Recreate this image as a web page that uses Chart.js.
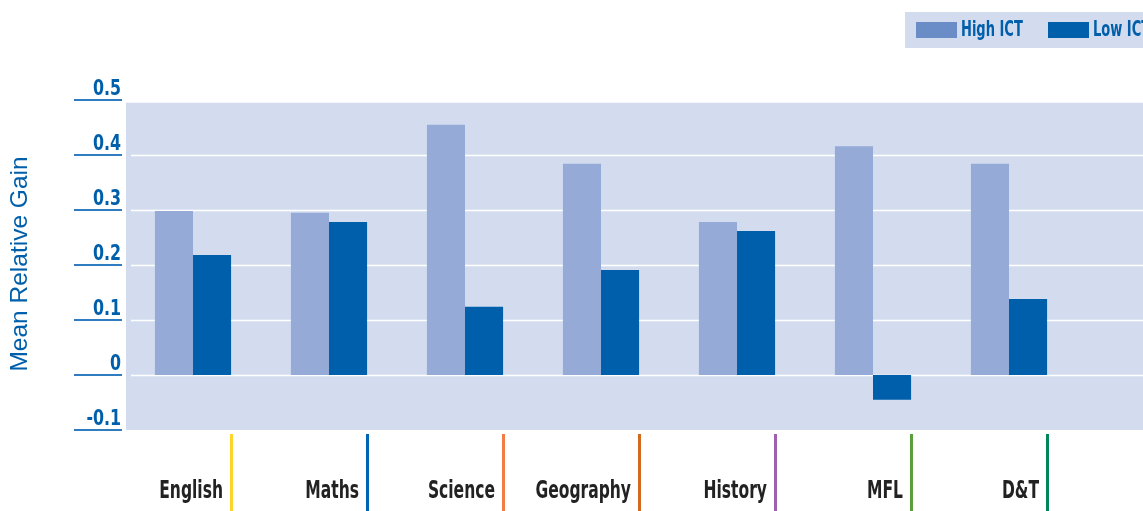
<!DOCTYPE html>
<html>
<head>
<meta charset="utf-8">
<script src="https://cdn.jsdelivr.net/npm/chart.js@4"></script>
<style>
    html, body { margin: 0; padding: 0; background: #fff; }
    #wrap { position: relative; width: 1143px; height: 511px; }
</style>
</head>
<body>
<div id="wrap"><canvas id="chartGain"></canvas></div>
<script>
// data
const subjects = ['English', 'Maths', 'Science', 'Geography', 'History', 'MFL', 'D&T'];
const subjectColors = ['#FFD42A', '#0066B3', '#F47B45', '#D2691C', '#A060B0', '#5C9E3A', '#008657'];
const highICT = [0.298, 0.295, 0.455, 0.384, 0.278, 0.416, 0.384];
const lowICT = [0.218, 0.278, 0.124, 0.191, 0.262, -0.045, 0.138];
const yTicks = [0.5, 0.4, 0.3, 0.2, 0.1, 0, -0.1];
const yTickLabels = ['0.5', '0.4', '0.3', '0.2', '0.1', '0', '-0.1'];

const BLUE = '#005FAA';
const narrow = '"Liberation Sans Narrow", "DejaVu Sans Condensed", "Roboto Condensed", sans-serif';

// condensed bold text: squeeze horizontally since no narrow face is around
function narrowText(ctx, text, x, y, size, sx, align, baseline) {
    ctx.save();
    ctx.translate(x, y);
    ctx.scale(sx, 1);
    ctx.font = 'bold ' + size + 'px ' + narrow;
    ctx.textAlign = align;
    ctx.textBaseline = baseline;
    ctx.fillText(text, 0, 0);
    ctx.restore();
}

// panel background + white gridlines behind the bars
const panelPlugin = {
    id: 'panel',
    beforeDatasetsDraw(chart) {
        const ctx = chart.ctx, y = chart.scales.y, a = chart.chartArea;
        ctx.save();
        ctx.fillStyle = '#D3DCEF';
        const top = y.getPixelForValue(0.495);
        ctx.fillRect(a.left + 1, top, chart.width - a.left, a.bottom - top);
        ctx.strokeStyle = '#FFFFFF';
        ctx.lineWidth = 1.5;
        yTicks.filter(v => v < 0.5 && v > -0.1).forEach(v => {
            const py = Math.round(y.getPixelForValue(v)) + 0.5;
            ctx.beginPath(); ctx.moveTo(a.left + 6, py); ctx.lineTo(chart.width, py); ctx.stroke();
        });
        ctx.restore();
    },
    afterDraw(chart) {
        const ctx = chart.ctx, y = chart.scales.y;
        ctx.save();

        // y tick labels with underlines
        yTicks.forEach((v, i) => {
            const py = Math.round(y.getPixelForValue(v));
            ctx.strokeStyle = '#2F7CC0';
            ctx.lineWidth = 2;
            ctx.beginPath(); ctx.moveTo(74, py); ctx.lineTo(122, py); ctx.stroke();
            ctx.fillStyle = BLUE;
            narrowText(ctx, yTickLabels[i], 121, py - 5, 22, 0.8, 'right', 'alphabetic');
        });

        // y axis title
        ctx.save();
        ctx.translate(20, 264);
        ctx.rotate(-Math.PI / 2);
        ctx.fillStyle = BLUE;
        ctx.font = '24.5px "Liberation Sans", Arial, sans-serif';
        ctx.textAlign = 'center';
        ctx.textBaseline = 'middle';
        ctx.fillText('Mean Relative Gain', 0, 0);
        ctx.restore();

        // subject labels with coloured markers at the right edge of each group
        const meta = chart.getDatasetMeta(1);
        subjects.forEach((s, i) => {
            const bar = meta.data[i];
            const lx = Math.round(bar.x + bar.width / 2);
            ctx.fillStyle = subjectColors[i];
            ctx.fillRect(lx - 1, 434, 3, 77);
            ctx.fillStyle = '#222222';
            narrowText(ctx, s, lx - 8, 498, 24, 0.72, 'right', 'alphabetic');
        });

        // legend box (runs off the right edge)
        ctx.fillStyle = '#D3DCEF';
        ctx.fillRect(905, 12, 240, 36);
        const legendX = [916, 1048];
        const swatch = ['#6A8DC8', BLUE];
        chart.data.datasets.forEach((d, i) => {
            ctx.fillStyle = swatch[i];
            ctx.fillRect(legendX[i], 22, 41, 16);
            ctx.fillStyle = BLUE;
            narrowText(ctx, d.label, legendX[i] + 45, 31, 21, 0.69, 'left', 'middle');
        });
        ctx.restore();
    }
};

new Chart(document.getElementById('chartGain'), {
    type: 'bar',
    data: {
        labels: subjects,
        datasets: [
            { label: 'High ICT', data: highICT, backgroundColor: '#95AAD7' },
            { label: 'Low ICT', data: lowICT, backgroundColor: BLUE }
        ]
    },
    options: {
        responsive: true, maintainAspectRatio: false, animation: false,
        devicePixelRatio: 1,
        layout: { padding: { left: 125, right: 66, top: 100, bottom: 81 } },
        datasets: { bar: { categoryPercentage: 0.56, barPercentage: 1, borderWidth: 0 } },
        plugins: { legend: { display: false }, tooltip: { enabled: false } },
        scales: {
            x: { display: false },
            y: { display: false, min: -0.1, max: 0.5 }
        }
    },
    plugins: [panelPlugin]
});
</script>
</body>
</html>
